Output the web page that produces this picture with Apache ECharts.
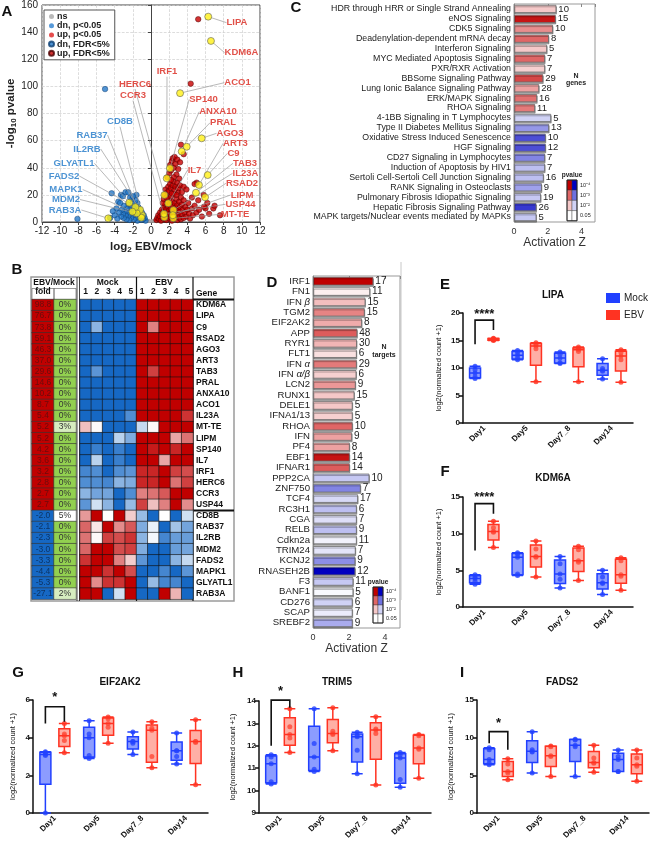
<!DOCTYPE html>
<html>
<head>
<meta charset="utf-8">
<script src="https://cdn.jsdelivr.net/npm/echarts@6/dist/echarts.min.js"></script>
<style>
  html, body { margin: 0; padding: 0; background: #fff; }
  #chart { width: 650px; height: 848px; }
</style>
</head>
<body>
<div id="chart"></div>
<script>
// ---------- A: volcano ----------
var volNs = [[-0.45,0.6],[-0.35,1.1],[-0.3,0.3],[-0.25,0.8],[-0.2,1.4],[-0.15,0.2],[-0.1,0.6],[-0.05,1.0],[0,0.3],[0.05,0.8],
  [0.1,1.3],[0.15,0.4],[0.2,0.9],[0.25,0.2],[0.3,1.2],[0.35,0.6],[0.4,1.0],[0.45,0.3],[-0.4,0.2],[0.5,0.8],
  [-0.55,0.9],[0.6,0.5],[-0.65,0.4],[0.7,1.0],[-0.75,1.1],[0.8,0.3]];
var volDnP = [[-0.5,1.5],[-0.6,1.8],[-0.7,2.1],[-0.8,1.6],[-0.9,2.4],[-1.0,1.9],[-1.2,2.2],[-1.5,1.7],[-0.55,2.5],[-0.65,1.4]];
var volUpP = [[0.5,1.5],[0.6,1.9],[0.7,2.3],[0.8,1.6],[0.9,2.5],[1.0,1.8],[1.2,2.1],[1.5,1.6],[2.9,2.0],[0.65,1.4]];
var volDnFdr = [[-0.6,1],[-0.7,3],[-0.8,5],[-0.9,2],[-1.0,7],[-1.0,4],[-1.1,1.5],[-1.2,9],[-1.2,5],[-1.3,3],
  [-1.4,11],[-1.4,7],[-1.5,1],[-1.5,14],[-1.6,5],[-1.6,9],[-1.7,3],[-1.7,16],[-1.8,7],[-1.8,12],
  [-1.9,2],[-1.9,10],[-2.0,5],[-2.0,14],[-2.1,8],[-2.1,17],[-2.2,3],[-2.2,11],[-2.3,6],[-2.4,9],
  [-2.4,1.5],[-2.5,13],[-2.5,4.5],[-2.6,7],[-2.7,2],[-2.7,10],[-2.8,5],[-2.9,8],[-3.0,3],[-3.0,12],
  [-3.1,6],[-3.2,9],[-3.3,4],[-3.3,20],[-3.5,7],[-3.6,15],[-3.7,2.5],[-3.8,10],[-4.0,5],[-4.2,8],
  [-4.5,3],[-2.8,22],[-3.1,19],[-2.3,18],[-1.6,20],[-2.0,19],[-4.33,21.2],[-3.4,14],[-2.5,21.9],
  [-5.06,98],[-8.1,2.3]];
var volUpFdr = [[0.6,1.5],[0.7,3],[0.8,5],[0.9,2],[1.0,7],[1.0,4],[1.1,1],[1.2,9],[1.2,5.5],[1.3,3],
  [1.4,8],[1.4,11],[1.5,6],[1.5,2],[1.6,13],[1.6,4.5],[1.7,9.5],[1.7,1.5],[1.8,7],[1.8,15],
  [1.9,4],[1.9,11],[2.0,2.5],[2.0,8.5],[2.0,17],[2.1,6],[2.1,13],[2.2,3.5],[2.2,10],[2.2,19],
  [2.3,1],[2.3,7.5],[2.3,15],[2.4,5],[2.4,12],[2.5,9],[2.5,2.5],[2.5,21],[2.6,6.5],[2.6,14],
  [2.7,3.5],[2.7,10.5],[2.8,17],[2.8,7],[2.9,1.5],[2.9,12.5],[3.0,5],[3.0,9],[3.0,22],[3.1,3],
  [3.1,15],[3.2,7.5],[3.2,11],[3.3,2],[3.3,18],[3.4,5.5],[3.4,13],[3.5,9],[3.6,3],[3.6,16],
  [3.7,7],[3.8,11],[3.9,4],[4.0,9],[4.1,14],[4.2,6],[4.3,2.5],[4.5,10],[4.6,5],[4.8,12],
  [5.0,7],[5.3,9],[5.6,4],[6.0,10],[6.4,6],[6.86,10],[7.6,5],[5.84,11.3],[5.03,29],
  [1.3,14],[1.4,17],[1.5,20],[1.6,24],[1.7,18],[1.8,22],[1.9,26],[2.0,23],[2.1,28],[2.2,25],
  [2.3,21],[2.4,27],[2.5,30],[2.6,24],[2.7,26],[2.8,20],[2.9,29],[3.0,25],[3.2,27],[3.4,22],
  [3.6,26],[3.9,24],[4.5,18],[4.8,28],[5.2,16],[5.8,20],[6.2,14],[7.0,12],
  [1.8,33],[2.0,36],[2.1,42],[2.2,38],[2.3,45],[2.4,47],[2.5,40],[2.6,48],[2.7,43],[2.8,35],
  [2.9,46],[3.0,39],[3.1,32],[3.2,44],[3.3,57],[3.6,50],[2.5,33],[2.2,31],
  [5.2,149.5],[4.37,102]];
var hlGenes = ['KDM6A','LIPA','C9','RSAD2','AGO3','ART3','TAB3','PRAL','ANXA10','ACO1','IL23A','MT-TE','LIPM','SP140',
  'IL7','IRF1','HERC6','CCR3','USP44','CD8B','RAB37','IL2RB','MDM2','FADS2','MAPK1','GLYATL1','RAB3A'];
var hlX = [6.6,6.3,6.24,5.95,5.58,5.28,4.95,3.93,3.38,3.2,2.46,2.46,2.4,2.09,1.9,1.73,1.47,1.47,1.43,
  -1.0,-1.07,-1.2,-1.57,-1.72,-2.05,-2.39,-4.7];
var hlY = [133.5,151.4,34.6,18.2,61.7,27.3,21.6,55.5,52,95,8.8,2.7,5.0,39.6,13.8,32.2,19.9,3.5,6.0,
  5.2,3.2,9,6.4,11,7.6,14.2,2.7];

// ---------- B: table + heatmap ----------
var bGenes = ['KDM6A','LIPA','C9','RSAD2','AGO3','ART3','TAB3','PRAL','ANXA10','ACO1','IL23A','MT-TE','LIPM','SP140',
  'IL7','IRF1','HERC6','CCR3','USP44','CD8B','RAB37','IL2RB','MDM2','FADS2','MAPK1','GLYATL1','RAB3A'];
var bFold = [98.8,76.7,73.8,59.1,46.3,37.0,29.6,14.6,10.2,8.7,5.4,5.2,5.2,4.2,3.6,3.2,2.8,2.7,2.7,
  -2.0,-2.1,-2.3,-3.0,-3.3,-4.4,-5.3,-27.1];
var bFdr = [0,0,0,0,0,0,0,0,0,0,0,3,0,0,0,0,0,0,0,5,0,0,0,0,0,0,2];
var zMock = [
  [-2,-2,-2,-2,-2],[-2,-2,-2,-2,-2],[-2,-1.0,-2,-2,-2],[-2,-2,-2,-2,-2],[-2,-2,-2,-2,-2],
  [-2,-2,-2,-2,-2],[-2,-1.4,-2,-2,-2],[-2,-2,-2,-2,-2],[-2,-2,-2,-2,-2],[-2,-2,-2,-2,-2],
  [-2,-2,-2,-2,-1.5],[0.5,0.05,-2,-2,-2],[-2,-2,-2,-0.6,-1.1],[-2,-1.7,-2,-1.7,-2],[-2,-0.6,-2,-1.7,-2],
  [-1.6,-1.5,-2,-1.5,-1.4],[-1.5,-1.5,-1.6,-1.0,-1.1],[-1.0,-1.2,-1.2,-2,-1.5],[-1.4,-0.4,-1.0,-2,-0.9],
  [0.8,2,0,2,0.4],[1.2,0.2,2,0.9,1.3],[1.1,0.05,1.5,1.4,1.6],[1.2,2,2,1.4,1.5],[1.6,2,2,1.0,0.4],
  [2,2,1.6,2,1.4],[2,0.9,1.6,1.6,2],[2,2,-2,-0.4,2]];
var zEbv = [
  [2,2,2,2,2],[2,2,2,2,2],[2,1.0,2,2,2],[2,2,2,2,2],[2,2,2,2,2],
  [2,2,2,2,2],[2,1.5,2,2,2],[2,2,2,2,2],[2,2,2,2,2],[2,2,2,2,2],
  [2,2,2,2,1.6],[-0.5,0.05,2,2,2],[2,2,2,0.7,1.1],[2,1.8,2,1.7,2],[2,2,0.7,2,2],
  [1.7,1.7,2,1.5,1.4],[1.7,1.7,2,1.1,1.5],[1.0,1.1,1.3,2,2],[1.5,0.5,1.0,2,0.9],
  [-0.9,-2,0,-2,-0.4],[-1.1,-0.2,-2,-0.8,-1.2],[-1.0,-0.1,-1.6,-1.3,-1.3],[-1.1,-2,-2,-1.3,-1.2],[-1.4,-2,-2,-1.0,-0.5],
  [-2,-2,-1.6,-2,-1.4],[-2,-0.9,-1.6,-1.6,-2],[-2,-2,2,0.6,-2]];

// ---------- C: pathways ----------
var cPaths = ['HDR through HRR or Single Strand Annealing','eNOS Signaling','CDK5 Signaling','Deadenylation-dependent mRNA decay',
  'Interferon Signaling','MYC Mediated Apoptosis Signaling','PXR/RXR Activation','BBSome Signaling Pathway',
  'Lung Ionic Balance Signaling Pathway','ERK/MAPK Signaling','RHOA Signaling','4-1BB Signaling in T Lymphocytes',
  'Type II Diabetes Mellitus Signaling','Oxidative Stress Induced Senescence','HGF Signaling','CD27 Signaling in Lymphocytes',
  'Induction of Apoptosis by HIV1','Sertoli Cell-Sertoli Cell Junction Signaling','RANK Signaling in Osteoclasts',
  'Pulmonary Fibrosis Idiopathic Signaling','Hepatic Fibrosis Signaling Pathway','MAPK targets/Nuclear events mediated by MAPKs'];
var cZ = [2.51,2.47,2.31,2.07,1.96,1.84,1.84,1.73,1.49,1.37,1.25,2.2,2.08,1.88,1.88,1.84,1.84,1.76,1.65,1.6,1.33,1.33];
var cN = [10,15,10,8,5,7,7,29,28,16,11,5,13,10,12,7,7,16,9,19,26,5];
var cLogP = [2.0,3.8,2.6,3.0,2.0,3.0,1.9,3.3,2.4,2.9,2.8,2.0,2.6,3.3,3.3,2.8,2.2,2.2,2.5,2.1,3.5,2.1];
var cUpCount = 11;

// ---------- D: upstream regulators ----------
var dGenes = ['IRF1','FN1','IFN β','TGM2','EIF2AK2','APP','RYR1','FLT1','IFN α','IFN α/β','LCN2','RUNX1','DELE1','IFNA1/13',
  'RHOA','IFN','PF4','EBF1','IFNAR1','PPP2CA','ZNF750','TCF4','RC3H1','CGA','RELB','Cdkn2a','TRIM24','KCNJ2','RNASEH2B',
  'F3','BANF1','CD276','SCAP','SREBF2'];
var dZ = [3.35,3.17,2.91,2.87,2.72,2.46,2.44,2.43,2.43,2.41,2.37,2.3,2.2,2.2,2.2,2.17,2.04,2.04,2.04,
  3.13,2.65,2.5,2.43,2.43,2.43,2.43,2.37,2.35,2.35,2.24,2.24,2.2,2.2,2.2];
var dN = [17,11,15,15,8,48,30,6,29,6,9,15,5,5,10,9,8,14,14,10,7,17,6,7,9,11,7,9,12,11,5,6,7,9];
var dLogP = [4.0,1.5,2.1,2.7,2.3,3.1,2.2,1.7,2.8,1.9,2.5,2.0,2.0,1.9,3.0,2.4,2.4,3.8,3.1,
  2.1,2.8,1.9,2.2,1.8,2.2,1.5,1.7,2.7,4.0,2.1,1.4,2.0,1.6,2.4];
var dUpCount = 19;

// ---------- E-I: per-day counts, 5 samples per group ----------
var days = ['Day1','Day5','Day7_8','Day14'];
var lipaMock = [[8.1,8.4,9.1,9.7,10.3],[11.5,11.8,12.3,12.8,13.2],[10.8,11.0,11.8,12.5,12.9],[8.0,9.4,9.6,9.9,11.7]];
var lipaEbv = [[15.0,15.1,15.2,15.3,15.4],[7.5,13.5,14.0,14.3,14.6],[7.5,13.0,13.3,13.5,13.8],[7.4,11.5,12.2,12.8,13.3]];
var kdm6aMock = [[3.1,3.5,3.9,4.1,4.4],[4.3,4.5,6.8,7.2,7.4],[2.6,3.8,4.5,5.9,6.9],[1.7,3.2,3.3,4.1,5.0]];
var kdm6aEbv = [[8.1,10.2,10.3,10.8,11.7],[4.1,6.8,6.9,7.9,9.0],[3.6,6.1,6.3,7.8,8.3],[2.3,4.2,4.4,6.3,6.7]];
var eif2ak2Mock = [[0,3.05,3.1,3.2,3.25],[2.9,3.05,4.0,4.2,4.9],[3.1,3.7,3.8,3.8,4.3],[2.6,3.0,3.3,3.3,4.25]];
var eif2ak2Ebv = [[3.2,3.85,4.1,4.2,4.75],[3.7,4.55,4.75,5.0,5.1],[2.4,3.0,4.4,4.5,4.85],[1.5,3.75,3.8,3.8,4.95]];
var trim5Mock = [[10.3,10.4,11.2,11.5,11.6],[10.85,10.95,11.5,12.1,13.65],[10.75,11.8,12.4,12.45,12.6],[10.15,10.5,11.45,11.6,11.7]];
var trim5Ebv = [[11.7,12.35,12.5,12.85,13.65],[11.78,12.5,12.55,12.65,13.7],[10.25,12.55,12.7,12.75,13.3],[10.55,11.85,11.9,12.45,12.5]];
var fads2Mock = [[6.4,6.65,7.1,8.4,8.65],[5.3,8.1,8.2,8.4,10.8],[4.85,8.8,9.0,9.7,9.8],[5.5,5.5,7.1,7.5,8.35]];
var fads2Ebv = [[4.4,5.3,5.5,6.5,7.2],[4.85,7.5,7.6,8.8,8.9],[5.4,6.6,6.7,7.3,9.0],[4.2,6.2,6.4,7.3,8.35]];
// Day1 significance bracket: [mock leg, top, ebv leg, star height]
var lipaSig = [14.3,18.7,16.9,19.8];
var kdm6aSig = [7.7,14.1,12.7,15.0];
var eif2ak2Sig = [4.75,5.64,4.85,6.15];
var trim5Sig = [12.0,14.04,13.7,14.42];
var fads2Sig = [9.26,10.8,8.4,11.9];

// ---------- layout / styles ----------
var FONT = '"Liberation Sans", Arial, sans-serif';
var chart = echarts.init(document.getElementById('chart'));

var upStops = [[0,[255,255,255]],[0.26,[245,200,200]],[0.63,[224,102,102]],[1,[192,0,0]]];
var dnStops = [[0,[255,255,255]],[0.26,[208,210,245]],[0.63,[110,112,224]],[1,[0,0,192]]];
function mix(stops, t) {
    for (var i = 1; i < stops.length; i++) {
        if (t <= stops[i][0]) {
            var a = stops[i - 1], b = stops[i], f = (t - a[0]) / (b[0] - a[0]);
            var c = a[1].map(function (v, k) { return Math.round(v + (b[1][k] - v) * f); });
            return 'rgb(' + c.join(',') + ')';
        }
    }
    return 'rgb(' + stops[stops.length - 1][1].join(',') + ')';
}
function pColor(lp, up) {
    var t = Math.max(0, Math.min(1, (lp - 1.3) / 2.7));
    return mix(up ? upStops : dnStops, t);
}

var hlLabelPos = {
    'KDM6A': [241.5, 52.7], 'LIPA': [237, 22.7], 'ACO1': [237.5, 82.7], 'SP140': [203.5, 99.3], 'ANXA10': [218, 111.7],
    'PRAL': [223, 122.7], 'AGO3': [230, 133.3], 'ART3': [235.5, 143.3], 'C9': [233.5, 153.3], 'TAB3': [245, 163.3],
    'IL23A': [245.5, 173.3], 'RSAD2': [242, 183.3], 'LIPM': [242, 195], 'USP44': [240.5, 204.3], 'MT-TE': [235, 214.3],
    'IL7': [194.5, 170], 'IRF1': [167, 71.7], 'HERC6': [135, 84], 'CCR3': [133, 95.7],
    'CD8B': [120, 121.7], 'RAB37': [92, 135], 'IL2RB': [87, 149], 'GLYATL1': [74, 163.3], 'FADS2': [64, 176],
    'MAPK1': [66, 189.5], 'MDM2': [66, 199.5], 'RAB3A': [65, 210]
};

var grids = [
    {left: 42, top: 5, width: 218, height: 217, show: true, borderColor: '#444', borderWidth: 1},
    {left: 32, top: 299.5, width: 44, height: 299.7},
    {left: 80, top: 299.5, width: 113, height: 299.7},
    {left: 514, top: 4, width: 81, height: 218, show: true, borderColor: '#999', borderWidth: 1},
    {left: 313, top: 276, width: 87, height: 352, show: true, borderColor: '#999', borderWidth: 1}
];
var boxGrids = [
    {left: 463, top: 313, width: 170, height: 110},
    {left: 463, top: 497, width: 170, height: 110},
    {left: 33, top: 700, width: 175, height: 113},
    {left: 259, top: 701, width: 172, height: 112},
    {left: 477, top: 700, width: 172, height: 113}
];
boxGrids.forEach(function (g) { grids.push(g); });

var hidden = {axisLine: {show: false}, axisTick: {show: false}, splitLine: {show: false}};
function ext(a, b) { return Object.assign({}, a, b); }

var xAxes = [
    {gridIndex: 0, type: 'value', min: -12, max: 12, interval: 2,
        axisLine: {lineStyle: {color: '#444'}}, axisTick: {length: 3, lineStyle: {color: '#444'}},
        axisLabel: {fontSize: 10, color: '#222', margin: 4},
        splitLine: {show: true, lineStyle: {type: 'dashed', color: '#cfcfcf', width: 0.7}},
        name: 'log{s|2} EBV/mock', nameLocation: 'middle', nameGap: 18,
        nameTextStyle: {fontSize: 11.5, fontWeight: 'bold', color: '#222',
            rich: {s: {fontSize: 8, fontWeight: 'bold', color: '#222', padding: [6, 0, 0, 0]}}}},
    ext(hidden, {gridIndex: 1, type: 'category', position: 'top', data: ['fold', 'FDR'],
        axisLabel: {fontSize: 8.5, fontWeight: 'bold', color: '#111', margin: 3}}),
    ext(hidden, {gridIndex: 2, type: 'category', position: 'top', data: ['m1','m2','m3','m4','m5','e1','e2','e3','e4','e5'],
        axisLabel: {fontSize: 8.5, fontWeight: 'bold', color: '#111', margin: 3, interval: 0,
            formatter: function (v) { return v.slice(1); }}}),
    {gridIndex: 3, type: 'value', min: 0, max: 4.8, interval: 2, axisLine: {show: false},
        axisTick: {length: 3, lineStyle: {color: '#888'}},
        axisLabel: {fontSize: 9, color: '#333', margin: 5, showMaxLabel: false},
        splitLine: {show: false}, name: 'Activation Z', nameLocation: 'middle', nameGap: 14,
        nameTextStyle: {fontSize: 12, color: '#333'}},
    ext(hidden, {gridIndex: 3, type: 'value', position: 'top', min: 0, max: 4.8, interval: 2,
        axisTick: {show: true, inside: true, length: 3, lineStyle: {color: '#888'}}, axisLabel: {show: false}}),
    {gridIndex: 4, type: 'value', min: 0, max: 4.83, interval: 2, axisLine: {show: false},
        axisTick: {length: 3, lineStyle: {color: '#888'}},
        axisLabel: {fontSize: 9, color: '#333', margin: 5, showMaxLabel: false},
        splitLine: {show: false}, name: 'Activation Z', nameLocation: 'middle', nameGap: 14,
        nameTextStyle: {fontSize: 12, color: '#333'}},
    ext(hidden, {gridIndex: 4, type: 'value', position: 'top', min: 0, max: 4.83, interval: 2,
        axisTick: {show: true, inside: true, length: 3, lineStyle: {color: '#888'}}, axisLabel: {show: false}})
];
var yAxes = [
    {gridIndex: 0, type: 'value', min: 0, max: 160, interval: 20,
        axisLine: {show: true, lineStyle: {color: '#444'}}, axisTick: {show: true, length: 3, lineStyle: {color: '#444'}},
        axisLabel: {fontSize: 10, color: '#222', margin: 4},
        splitLine: {show: true, lineStyle: {type: 'dashed', color: '#cfcfcf', width: 0.7}},
        name: '-log{s|10} pvalue', nameLocation: 'middle', nameGap: 24,
        nameTextStyle: {fontSize: 11.5, fontWeight: 'bold', color: '#222',
            rich: {s: {fontSize: 8, fontWeight: 'bold', color: '#222', padding: [6, 0, 0, 0]}}}},
    ext(hidden, {gridIndex: 1, type: 'category', inverse: true, data: bGenes, axisLabel: {show: false}}),
    ext(hidden, {gridIndex: 2, type: 'category', inverse: true, position: 'right', data: bGenes,
        axisLabel: {fontSize: 8.5, fontWeight: 'bold', color: '#111', margin: 3, interval: 0}}),
    {gridIndex: 3, type: 'category', inverse: true, data: cPaths, axisLine: {show: true, lineStyle: {color: '#999'}},
        axisTick: {show: false}, axisLabel: {fontSize: 8.8, color: '#222', margin: 3, interval: 0}},
    ext(hidden, {gridIndex: 3, type: 'category', inverse: true, position: 'right', data: cPaths,
        axisTick: {show: true, length: 3, alignWithLabel: true, lineStyle: {color: '#888'}}, axisLabel: {show: false}}),
    {gridIndex: 4, type: 'category', inverse: true, data: dGenes, axisLine: {show: true, lineStyle: {color: '#999'}},
        axisTick: {show: false}, axisLabel: {fontSize: 9.6, color: '#222', margin: 3, interval: 0,
            formatter: function (v) {
                var m = v.match(/^(.*) ([αβ\/]+)$/);
                return m ? m[1] + ' {g|' + m[2] + '}' : v;
            },
            rich: {g: {fontSize: 9.6, fontStyle: 'italic', color: '#222'}}}},
    ext(hidden, {gridIndex: 4, type: 'category', inverse: true, position: 'right', data: dGenes,
        axisTick: {show: true, length: 3, alignWithLabel: true, lineStyle: {color: '#888'}}, axisLabel: {show: false}})
];

var series = [];

// volcano
function volSeries(name, data, size, color, border) {
    return {name: name, type: 'scatter', xAxisIndex: 0, yAxisIndex: 0, data: data, symbolSize: size,
        itemStyle: {color: color, borderColor: border || color, borderWidth: border ? 0.6 : 0}, z: 3};
}
series.push(volSeries('ns', volNs, 2.5, '#a8a8a8'));
series.push(volSeries('dn, p<0.05', volDnP, 2.5, '#2c7fd0'));
series.push(volSeries('up, p<0.05', volUpP, 2.5, '#e02020'));
series.push(volSeries('dn, FDR<5%', volDnFdr, 5.5, '#2478c8', '#0c3e72'));
series.push(volSeries('up, FDR<5%', volUpFdr, 5.5, '#c80000', '#4a0000'));
series.push({
    name: 'hl', type: 'scatter', xAxisIndex: 0, yAxisIndex: 0, z: 5, symbolSize: 7,
    itemStyle: {color: '#fff016', borderColor: '#555', borderWidth: 0.7},
    data: hlGenes.map(function (g, i) {
        return {name: g, value: [hlX[i], hlY[i]], label: {color: hlX[i] > 0 ? '#d9261c' : '#1f78c8'}};
    }),
    label: {show: true, formatter: '{b}', fontSize: 9.5, fontWeight: 'bold'},
    labelLine: {show: true, lineStyle: {color: '#9a9a9a', width: 0.7}},
    labelLayout: function (p) {
        var pos = hlLabelPos[hlGenes[p.dataIndex]];
        return {x: pos[0], y: pos[1], align: 'center', verticalAlign: 'middle'};
    }
});

// B table columns
var b1Data = [];
bGenes.forEach(function (g, i) {
    var up = bFold[i] > 0, f = bFdr[i];
    b1Data.push({value: [0, i, bFold[i]], itemStyle: {color: up ? '#c00000' : '#1668c4'},
        label: {color: up ? '#6a0c0c' : '#0c3566'}});
    b1Data.push({value: [1, i, f], itemStyle: {color: f === 0 ? '#92d050' : (f < 5 ? '#d6ecbf' : '#ffffff')},
        label: {color: '#333'}});
});
series.push({
    type: 'heatmap', xAxisIndex: 1, yAxisIndex: 1, data: b1Data,
    itemStyle: {borderColor: '#333', borderWidth: 0.6},
    label: {show: true, fontSize: 8.5, formatter: function (p) {
        return p.value[0] === 0 ? p.value[2].toFixed(1) : p.value[2] + '%';
    }}
});
var heatData = [];
bGenes.forEach(function (g, r) {
    for (var c = 0; c < 5; c++) heatData.push([c, r, zMock[r][c]]);
    for (c = 0; c < 5; c++) heatData.push([c + 5, r, zEbv[r][c]]);
});
var heatIndex = series.length;
series.push({type: 'heatmap', xAxisIndex: 2, yAxisIndex: 2, data: heatData,
    itemStyle: {borderColor: '#111', borderWidth: 0.6}});

// C + D bars
function barSeries(xi, yi, vals, ns, lps, upCount, fs) {
    return {
        type: 'bar', xAxisIndex: xi, yAxisIndex: yi, data: vals, barCategoryGap: '18%',
        itemStyle: {
            color: function (p) { return pColor(lps[p.dataIndex], p.dataIndex < upCount); },
            borderColor: '#6a6a6a', borderWidth: 0.8,
            shadowColor: 'rgba(0,0,0,0.35)', shadowOffsetY: 1.5, shadowOffsetX: 0.5, shadowBlur: 0
        },
        label: {show: true, position: 'right', distance: 2, fontSize: fs, color: '#222',
            formatter: function (p) { return ns[p.dataIndex]; }}
    };
}
series.push(barSeries(3, 3, cZ, cN, cLogP, cUpCount, 9.5));
series.push(barSeries(5, 5, dZ, dN, dLogP, dUpCount, 10));

// E-I box plots
var boxPanels = [
    {mock: lipaMock, ebv: lipaEbv, min: 0, max: 20, step: 5, sig: lipaSig, stars: '****', gap: 20},
    {mock: kdm6aMock, ebv: kdm6aEbv, min: 0, max: 15, step: 5, sig: kdm6aSig, stars: '****', gap: 20},
    {mock: eif2ak2Mock, ebv: eif2ak2Ebv, min: 0, max: 6, step: 2, sig: eif2ak2Sig, stars: '*', gap: 16},
    {mock: trim5Mock, ebv: trim5Ebv, min: 9, max: 14, step: 1, sig: trim5Sig, stars: '*', gap: 22},
    {mock: fads2Mock, ebv: fads2Ebv, min: 0, max: 15, step: 5, sig: fads2Sig, stars: '*', gap: 22}
];
var MOCK = '#2140ff', EBV = '#ff3322';
function stats(v) {
    var s = v.slice().sort(function (a, b) { return a - b; });
    return [s[0], (s[0] + s[1]) / 2, s[2], (s[3] + s[4]) / 2, s[4]];
}
function points(groups) {
    var out = [];
    groups.forEach(function (g, d) { g.forEach(function (v) { out.push([d, v]); }); });
    return out;
}
boxPanels.forEach(function (bp, k) {
    var gi = 5 + k, ai = xAxes.length;
    xAxes.push({gridIndex: gi, type: 'category', data: days,
        axisLine: {lineStyle: {color: '#111', width: 1.5}},
        axisTick: {alignWithLabel: true, length: 4, lineStyle: {color: '#111', width: 1.5}},
        axisLabel: {rotate: 45, fontSize: 8, fontWeight: 'bold', color: '#111', margin: 4, interval: 0}});
    yAxes.push({gridIndex: gi, type: 'value', min: bp.min, max: bp.max, interval: bp.step,
        axisLine: {show: true, lineStyle: {color: '#111', width: 1.5}},
        axisTick: {show: true, length: 4, lineStyle: {color: '#111', width: 1.5}},
        axisLabel: {fontSize: 8, fontWeight: 'bold', color: '#111', margin: 3}, splitLine: {show: false},
        name: 'log2(normalized count +1)', nameLocation: 'middle', nameGap: bp.gap,
        nameTextStyle: {fontSize: 7.5, color: '#111'}});
    // same offset the boxplot layout uses for two series in a band
    var bw = boxGrids[k].width / days.length;
    var avail = bw * 0.8 - 2, gap = avail / 2 * 0.3, wid = (avail - gap) / 2, off = (gap + wid) / 2;
    series.push({name: 'Mock', type: 'boxplot', xAxisIndex: ai, yAxisIndex: ai, z: 3, boxWidth: [10, 11],
        data: bp.mock.map(stats), itemStyle: {color: 'rgba(45,75,255,0.55)', borderColor: MOCK, borderWidth: 1.5}});
    series.push({name: 'EBV', type: 'boxplot', xAxisIndex: ai, yAxisIndex: ai, z: 3, boxWidth: [10, 11],
        data: bp.ebv.map(stats), itemStyle: {color: 'rgba(255,95,75,0.5)', borderColor: EBV, borderWidth: 1.5}});
    series.push({name: 'mock pts', type: 'scatter', xAxisIndex: ai, yAxisIndex: ai, z: 2, symbolSize: 5,
        symbolOffset: [-off, 0], data: points(bp.mock), itemStyle: {color: MOCK}});
    series.push({name: 'ebv pts', type: 'scatter', xAxisIndex: ai, yAxisIndex: ai, z: 2, symbolSize: 5,
        symbolOffset: [off, 0], data: points(bp.ebv), itemStyle: {color: EBV}});
    series.push({type: 'custom', xAxisIndex: ai, yAxisIndex: ai, z: 6, data: [[0].concat(bp.sig)],
        renderItem: function (params, api) {
            var l = api.coord([0, api.value(1)]), t = api.coord([0, api.value(2)]);
            var r = api.coord([0, api.value(3)]), s = api.coord([0, api.value(4)]);
            return {type: 'group', children: [
                {type: 'polyline', shape: {points: [[l[0] - off, l[1]], [l[0] - off, t[1]], [l[0] + off, t[1]], [l[0] + off, r[1]]]},
                    style: {stroke: '#111', lineWidth: 1.6, fill: null}},
                {type: 'text', x: s[0], y: s[1], style: {text: bp.stars, font: 'bold 13px ' + FONT, fill: '#111',
                    align: 'center', verticalAlign: 'middle', textAlign: 'center', textVerticalAlign: 'middle'}}
            ]};
        }});
});

// ---------- decorations: letters, titles, table frame, keys ----------
function txt(x, y, s, font, color, align) {
    return {type: 'text', x: x, y: y, silent: true, style: {text: s, font: font, fill: color || '#111',
        align: align || 'center', verticalAlign: 'middle', textAlign: align || 'center', textVerticalAlign: 'middle'}};
}
function line(x1, y1, x2, y2, w, c) {
    return {type: 'line', silent: true, shape: {x1: x1, y1: y1, x2: x2, y2: y2}, style: {stroke: c || '#111', lineWidth: w || 1}};
}
function pvalueKey(x, y, rowH) {
    var els = [txt(x + 5, y - 5, 'pvalue', 'bold 6.5px ' + FONT, '#222')];
    var levels = [1, 0.63, 0.26, 0], names = ['10⁻⁴', '10⁻³', '10⁻²', '0.05'];
    levels.forEach(function (t, i) {
        els.push({type: 'rect', silent: true, shape: {x: x, y: y + i * rowH, width: 5, height: rowH},
            style: {fill: mix(upStops, t), stroke: '#333', lineWidth: 0.4}});
        els.push({type: 'rect', silent: true, shape: {x: x + 5, y: y + i * rowH, width: 5, height: rowH},
            style: {fill: mix(dnStops, t), stroke: '#333', lineWidth: 0.4}});
        els.push(txt(x + 13, y + i * rowH + rowH / 2, names[i], '5.5px ' + FONT, '#222', 'left'));
    });
    els.push({type: 'rect', silent: true, shape: {x: x, y: y, width: 10, height: rowH * 4},
        style: {fill: null, stroke: '#222', lineWidth: 1}});
    return els;
}
var L = 'bold 15px ' + FONT, T = 'bold 10px ' + FONT, H = 'bold 8.5px ' + FONT;
var gfx = [
    txt(7, 12, 'A', L), txt(17, 270, 'B', L), txt(296, 8, 'C', L), txt(272, 283, 'D', L),
    txt(445, 285, 'E', L), txt(445, 472, 'F', L), txt(18, 673, 'G', L), txt(238, 673, 'H', L), txt(462, 673, 'I', L),
    txt(553, 295, 'LIPA', T), txt(553, 478, 'KDM6A', T), txt(120, 682, 'EIF2AK2', T),
    txt(337, 682, 'TRIM5', T), txt(562, 682, 'FADS2', T),
    // table frame
    {type: 'rect', silent: true, shape: {x: 31, y: 277, width: 203, height: 324}, style: {fill: null, stroke: '#9a9a9a', lineWidth: 1.5}},
    txt(54, 282.5, 'EBV/Mock', H), txt(107.5, 282.5, 'Mock', H), txt(164, 282.5, 'EBV', H), txt(196, 293.5, 'Gene', H, '#111', 'left'),
    {type: 'rect', silent: true, shape: {x: 32, y: 288.5, width: 22, height: 11}, style: {fill: null, stroke: '#555', lineWidth: 0.6}},
    {type: 'rect', silent: true, shape: {x: 54, y: 288.5, width: 22, height: 11}, style: {fill: null, stroke: '#555', lineWidth: 0.6}},
    line(77, 277, 77, 601, 0.8), line(79.5, 277, 79.5, 601, 0.8),
    line(136.5, 277, 136.5, 601, 1.2), line(193, 277, 193, 601, 1.2),
    line(193, 299.5, 234, 299.5, 2), line(193, 510.4, 234, 510.4, 2),
    line(401, 262, 401, 600, 1, '#c8c8c8'),
    // N labels
    txt(576, 76, 'N', 'bold 7px ' + FONT, '#222'), txt(576, 83, 'genes', 'bold 7px ' + FONT, '#222'),
    txt(384, 347, 'N', 'bold 7px ' + FONT, '#222'), txt(384, 355, 'targets', 'bold 7px ' + FONT, '#222')
];
gfx = gfx.concat(pvalueKey(567, 180, 10.2), pvalueKey(373, 587, 9));

chart.setOption({
    animation: false,
    textStyle: {fontFamily: FONT},
    grid: grids,
    xAxis: xAxes,
    yAxis: yAxes,
    legend: [
        {data: ['ns', 'dn, p<0.05', 'up, p<0.05', 'dn, FDR<5%', 'up, FDR<5%'], orient: 'vertical', left: 44, top: 10,
            icon: 'circle', itemWidth: 5, itemHeight: 5, itemGap: 0.2, selectedMode: false,
            textStyle: {fontSize: 9, fontWeight: 'bold', color: '#222', padding: [0, 0, 0, -2]},
            backgroundColor: '#fff', borderColor: '#555', borderWidth: 1, padding: [2, 5, 2, 4]},
        {data: ['Mock', 'EBV'], orient: 'vertical', left: 606, top: 293, icon: 'rect', itemWidth: 12, itemHeight: 8,
            itemGap: 7, padding: 0, selectedMode: false, textStyle: {fontSize: 10, color: '#222'}}
    ],
    visualMap: [{type: 'continuous', seriesIndex: heatIndex, min: -2, max: 2, show: false,
        inRange: {color: ['#1668c4', '#ffffff', '#c00000']}}],
    series: series,
    graphic: gfx
});
</script>
</body>
</html>
